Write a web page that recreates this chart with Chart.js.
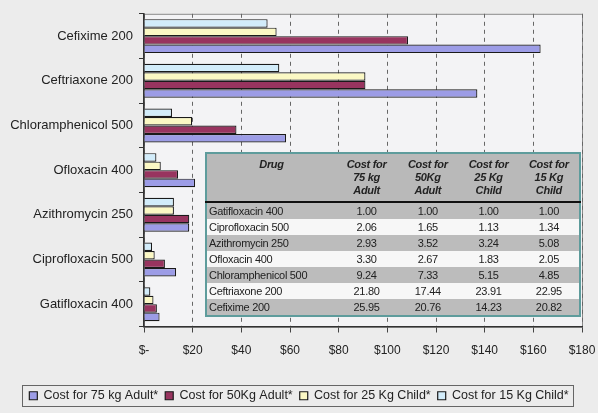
<!DOCTYPE html>
<html>
<head>
<meta charset="utf-8">
<script src="https://cdn.jsdelivr.net/npm/chart.js@4"></script>
<style>
  html, body { margin: 0; padding: 0; background: #ececec; }
  #wrap { position: relative; width: 598px; height: 413px; }
  #tbl {
    position: absolute; left: 205px; top: 152px; width: 376px;
    border-collapse: collapse; border: 2px solid #5e9c9c;
    font-family: "Liberation Sans", Arial, sans-serif; font-size: 11px; color: #222;
    letter-spacing: -0.3px;
  }
  #tbl th { background: #b9b9b9; font-weight: bold; font-style: italic; line-height: 13px;
    padding: 4px 0 4px 0; vertical-align: top; border-bottom: 2px solid #111; }
  #tbl td { height: 16px; padding: 0; line-height: 16px; text-align: center; }
  #tbl td.d { text-align: left; padding-left: 2px; }
  #tbl tr.g td { background: #bcbcbc; }
  #tbl tr.w td { background: #f7f7f7; }
</style>
</head>
<body>
<div id="wrap">
  <canvas id="myChart" width="598" height="413"></canvas>
  <table id="tbl"></table>
</div>
<script>
// - Dados do grafico (de cima para baixo)

const drogas = [
  'Cefixime 200',
  'Ceftriaxone 200',
  'Chloramphenicol 500',
  'Ofloxacin 400',
  'Azithromycin 250',
  'Ciprofloxacin 500',
  'Gatifloxacin 400'
]

const adulto75 = [163, 137, 58.4, 21, 18.6, 13.2, 6.4]
const adulto50 = [108.5, 91, 38, 14, 18.6, 8.6, 5.3]
const crianca25 = [54.5, 91, 19.8, 6.9, 12.3, 4.4, 3.9]
const crianca15 = [50.8, 55.6, 11.5, 5.1, 12.3, 3.3, 2.6]

const seriesNomes = [
  'Cost for 75 kg Adult*',
  'Cost for 50Kg Adult*',
  'Cost for 25 Kg Child*',
  'Cost for 15 Kg Child*'
]

const xTicks = [0, 20, 40, 60, 80, 100, 120, 140, 160, 180]

// - Tabela

const tabelaHeader = ['Drug', 'Cost for\n75 kg\nAdult', 'Cost for\n50Kg\nAdult', 'Cost for\n25 Kg\nChild', 'Cost for\n15 Kg\nChild']
const tabelaDrogas = ['Gatifloxacin 400', 'Ciprofloxacin 500', 'Azithromycin 250', 'Ofloxacin 400', 'Chloramphenicol 500', 'Ceftriaxone 200', 'Cefixime 200']
const tab75 = ['1.00', '2.06', '2.93', '3.30', '9.24', '21.80', '25.95']
const tab50 = ['1.00', '1.65', '3.52', '2.67', '7.33', '17.44', '20.76']
const tab25 = ['1.00', '1.13', '3.24', '1.83', '5.15', '23.91', '14.23']
const tab15 = ['1.00', '1.34', '5.08', '2.05', '4.85', '22.95', '20.82']

const tbl = document.getElementById('tbl');
let html = '<tr>';
const larguras = [130, 62, 62, 61, 61];
tabelaHeader.forEach((h, i) => {
  html += '<th style="width:' + larguras[i] + 'px">' + h.replace(/\n/g, '<br>') + '</th>';
});
html += '</tr>';
tabelaDrogas.forEach((d, i) => {
  html += '<tr class="' + (i % 2 === 0 ? 'g' : 'w') + '"><td class="d">' + d + '</td><td>' + tab75[i] +
    '</td><td>' + tab50[i] + '</td><td>' + tab25[i] + '</td><td>' + tab15[i] + '</td></tr>';
});
tbl.innerHTML = html;

// - Grafico

const fonte = "'Liberation Sans', Arial, sans-serif";

const fundo = {
  id: 'fundo',
  afterLayout(chart) {
    // legenda um pouco mais para a direita
    if (chart.legend) {
      chart.legend.left += 8;
      chart.legend.right += 8;
    }
  },
  beforeDraw(chart) {
    const ctx = chart.ctx;
    const a = chart.chartArea;
    ctx.save();
    ctx.fillStyle = '#ececec';
    ctx.fillRect(0, 0, chart.width, chart.height);
    ctx.fillStyle = '#f3f3f5';
    ctx.fillRect(a.left, a.top, a.right - a.left, a.bottom - a.top);
    ctx.strokeStyle = '#8a8a8a';
    ctx.lineWidth = 1;
    ctx.strokeRect(a.left + 0.5, a.top + 0.5, a.right - a.left, a.bottom - a.top);
    ctx.restore();
  },
  afterDraw(chart) {
    const lg = chart.legend;
    if (!lg || !lg.legendHitBoxes.length) return;
    const boxes = lg.legendHitBoxes;
    const l = boxes[0].left - 7;
    const r = boxes[boxes.length - 1].left + boxes[boxes.length - 1].width + 5;
    const t = boxes[0].top - 5;
    const ctx = chart.ctx;
    ctx.save();
    ctx.strokeStyle = '#666';
    ctx.lineWidth = 1;
    ctx.strokeRect(Math.round(l) + 0.5, Math.round(t) + 0.5, Math.round(r - l), 21);
    ctx.restore();
  }
};

const dados = {
  labels: drogas,
  datasets: [
    { label: seriesNomes[3], data: crianca15, backgroundColor: '#d2ecfa', borderColor: '#1a1a1a', borderWidth: 1.2 },
    { label: seriesNomes[2], data: crianca25, backgroundColor: '#fbf8c4', borderColor: '#1a1a1a', borderWidth: 1.2 },
    { label: seriesNomes[1], data: adulto50, backgroundColor: '#98345f', borderColor: '#1a1a1a', borderWidth: 1.2 },
    { label: seriesNomes[0], data: adulto75, backgroundColor: '#9c9ce6', borderColor: '#1a1a1a', borderWidth: 1.2 }
  ]
};

const config = {
  type: 'bar',
  data: dados,
  options: {
    indexAxis: 'y',
    responsive: false,
    animation: false,
    layout: { padding: { left: 0, right: 16, top: 13, bottom: 1 } },
    datasets: { bar: { categoryPercentage: 0.76, barPercentage: 1.0 } },
    scales: {
      x: {
        min: 0,
        max: 180,
        afterBuildTicks(scale) { scale.ticks = xTicks.map(v => ({ value: v })); },
        afterFit(scale) {
          scale.height = 56;
          scale.paddingRight = 0;
          scale.paddingLeft = 0;
        },
        grid: {
          color: '#666',
          tickColor: '#444',
          tickLength: 6,
          drawTicks: true
        },
        border: { color: '#333', width: 1.5, dash: [4, 4] },
        ticks: {
          color: '#222',
          font: { family: fonte, size: 12 },
          padding: 11,
          callback: v => v === 0 ? '$-' : '$' + v
        }
      },
      y: {
        afterFit(scale) { scale.width = 144; },
        grid: {
          drawOnChartArea: false,
          tickColor: '#333',
          tickLength: 5
        },
        border: { color: '#333', width: 1.5 },
        ticks: {
          color: '#222',
          font: { family: fonte, size: 13 },
          padding: 6
        }
      }
    },
    plugins: {
      legend: {
        position: 'bottom',
        reverse: true,
        labels: {
          color: '#222',
          font: { family: fonte, size: 12.5 },
          boxWidth: 8,
          boxHeight: 8,
          padding: 7
        }
      },
      tooltip: { enabled: false }
    }
  },
  plugins: [fundo]
};

const myChart = new Chart(
  document.getElementById('myChart'),
  config
);
</script>
</body>
</html>
